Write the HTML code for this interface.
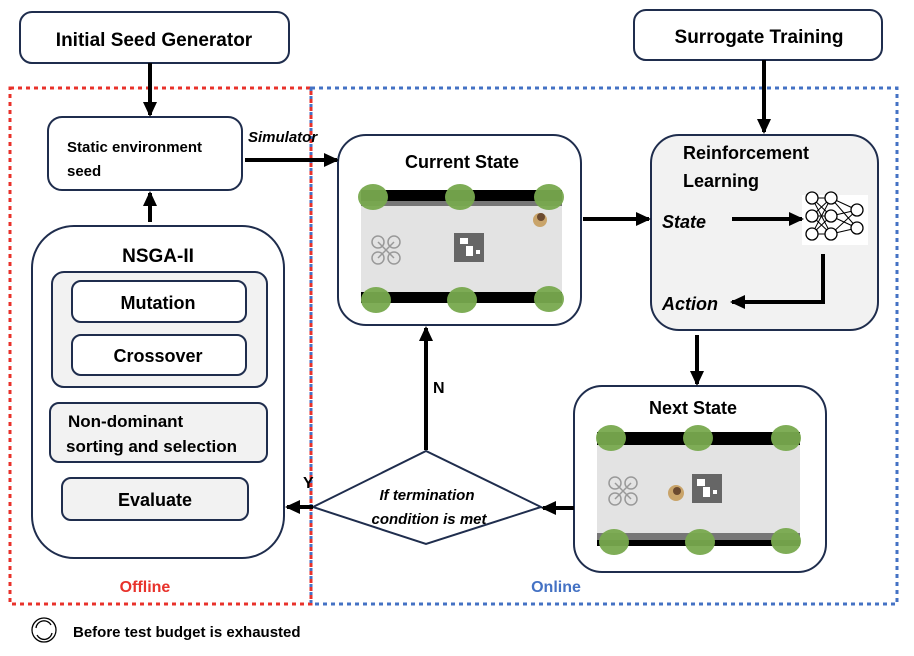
<!DOCTYPE html>
<html><head><style>body{margin:0;background:#fff}svg{display:block}text{font-family:"Liberation Sans",sans-serif;font-weight:bold}</style></head><body>
<svg width="914" height="656" viewBox="0 0 914 656" xmlns="http://www.w3.org/2000/svg">
<defs>
<marker id="b" markerWidth="16" markerHeight="16" refX="13" refY="7" orient="auto" markerUnits="userSpaceOnUse"><path d="M0,0 L15,7 L0,14 z" fill="#000"/></marker></defs>
<!-- dotted regions -->
<rect x="311" y="88" width="586" height="516" fill="none" stroke="#4472c4" stroke-width="3" stroke-dasharray="4,4"/>
<rect x="10" y="88" width="301" height="516" fill="none" stroke="#e8322b" stroke-width="3" stroke-dasharray="4,4"/>
<line x1="311" y1="88" x2="311" y2="604" stroke="#4472c4" stroke-width="3" stroke-dasharray="3,5"/>
<g stroke="#1f2d4d" stroke-width="2">
<rect x="20" y="12" width="269" height="51" rx="12" fill="#fff"/>
<rect x="634" y="10" width="248" height="50" rx="12" fill="#fff"/>
<rect x="48" y="117" width="194" height="73" rx="14" fill="#fff"/>
<rect x="32" y="226" width="252" height="332" rx="42" fill="#fff"/>
<rect x="52" y="272" width="215" height="115" rx="12" fill="#f2f2f2"/>
<rect x="72" y="281" width="174" height="41" rx="9" fill="#fff"/>
<rect x="72" y="335" width="174" height="40" rx="9" fill="#fff"/>
<rect x="50" y="403" width="217" height="59" rx="9" fill="#f2f2f2"/>
<rect x="62" y="478" width="186" height="42" rx="9" fill="#f2f2f2"/>
<rect x="338" y="135" width="243" height="190" rx="28" fill="#fff"/>
<rect x="651" y="135" width="227" height="195" rx="28" fill="#f2f2f2"/>
<rect x="574" y="386" width="252" height="186" rx="28" fill="#fff"/>
<polygon points="313,507 426,451 541,507 426,544" fill="#fff"/>
</g>
<!-- current state scene -->
<rect x="361" y="197" width="201" height="105" fill="#e3e3e3"/>
<rect x="361" y="190" width="201" height="11" fill="#000"/>
<rect x="361" y="201" width="201" height="5" fill="#777"/>
<rect x="361" y="292" width="201" height="11" fill="#000"/>
<g fill="#78a94e" opacity="0.95"><ellipse cx="373" cy="197" rx="15" ry="13"/><ellipse cx="460" cy="197" rx="15" ry="13"/><ellipse cx="549" cy="197" rx="15" ry="13"/><ellipse cx="376" cy="300" rx="15" ry="13"/><ellipse cx="462" cy="300" rx="15" ry="13"/><ellipse cx="549" cy="299" rx="15" ry="13"/></g>
<rect x="454" y="233" width="30" height="29" fill="#666"/><rect x="460" y="238" width="8" height="6" fill="#fff"/><rect x="466" y="246" width="7" height="10" fill="#fff"/><rect x="476" y="250" width="4" height="4" fill="#fff"/>
<g stroke="#999" stroke-width="1.5" fill="none"><circle cx="378" cy="242" r="6"/><circle cx="394" cy="242" r="6"/><circle cx="378" cy="258" r="6"/><circle cx="394" cy="258" r="6"/><line x1="378" y1="242" x2="394" y2="258"/><line x1="394" y1="242" x2="378" y2="258"/></g>
<circle cx="540" cy="220" r="7" fill="#c9a46a"/><circle cx="541" cy="217" r="4" fill="#6b4a30"/>
<!-- next state scene -->
<rect x="597" y="445" width="203" height="92" fill="#e3e3e3"/>
<rect x="597" y="432" width="203" height="13" fill="#000"/>
<rect x="597" y="533" width="203" height="7" fill="#777"/>
<rect x="597" y="540" width="203" height="6" fill="#000"/>
<g fill="#78a94e" opacity="0.95"><ellipse cx="611" cy="438" rx="15" ry="13"/><ellipse cx="698" cy="438" rx="15" ry="13"/><ellipse cx="786" cy="438" rx="15" ry="13"/><ellipse cx="614" cy="542" rx="15" ry="13"/><ellipse cx="700" cy="542" rx="15" ry="13"/><ellipse cx="786" cy="541" rx="15" ry="13"/></g>
<rect x="692" y="474" width="30" height="29" fill="#666"/><rect x="697" y="479" width="8" height="7" fill="#fff"/><rect x="703" y="487" width="7" height="10" fill="#fff"/><rect x="713" y="490" width="4" height="4" fill="#fff"/>
<g stroke="#999" stroke-width="1.5" fill="none"><circle cx="615" cy="483" r="6"/><circle cx="631" cy="483" r="6"/><circle cx="615" cy="499" r="6"/><circle cx="631" cy="499" r="6"/><line x1="615" y1="483" x2="631" y2="499"/><line x1="631" y1="483" x2="615" y2="499"/></g>
<circle cx="676" cy="493" r="8" fill="#c9a46a"/><circle cx="677" cy="491" r="4" fill="#6b4a30"/>
<!-- neural net -->
<rect x="802" y="195" width="66" height="50" fill="#fff"/>
<g stroke="#000" stroke-width="1"><path d="M812,198 L831,198 M812,198 L831,216 M812,198 L831,234 M812,216 L831,198 M812,216 L831,216 M812,216 L831,234 M812,234 L831,198 M812,234 L831,216 M812,234 L831,234 M831,198 L857,210 M831,216 L857,210 M831,234 L857,210 M831,198 L857,228 M831,216 L857,228 M831,234 L857,228"/></g>
<g stroke="#000" stroke-width="1.3" fill="#fff"><circle cx="812" cy="198" r="6"/><circle cx="812" cy="216" r="6"/><circle cx="812" cy="234" r="6"/><circle cx="831" cy="198" r="6"/><circle cx="831" cy="216" r="6"/><circle cx="831" cy="234" r="6"/><circle cx="857" cy="210" r="6"/><circle cx="857" cy="228" r="6"/></g>
<!-- arrows -->
<g stroke="#000" stroke-width="4" fill="none" marker-end="url(#b)">
<line x1="150" y1="63" x2="150" y2="115"/>
<line x1="150" y1="222" x2="150" y2="193"/>
<line x1="245" y1="160" x2="337" y2="160"/>
<line x1="583" y1="219" x2="649" y2="219"/>
<line x1="764" y1="60" x2="764" y2="132"/>
<line x1="732" y1="219" x2="802" y2="219"/>
<polyline points="823,254 823,302 732,302"/>
<line x1="697" y1="335" x2="697" y2="384"/>
<line x1="574" y1="508" x2="543" y2="508"/>
<line x1="313" y1="507" x2="287" y2="507"/>
<line x1="426" y1="450" x2="426" y2="328"/>
</g>
<!-- text -->
<text x="154" y="46" font-size="19" text-anchor="middle">Initial Seed Generator</text>
<text x="759" y="43" font-size="19" text-anchor="middle">Surrogate Training</text>
<text x="67" y="152" font-size="15">Static environment</text>
<text x="67" y="176" font-size="15">seed</text>
<text x="248" y="142" font-size="15" font-style="italic">Simulator</text>
<text x="158" y="262" font-size="19" text-anchor="middle">NSGA-II</text>
<text x="158" y="309" font-size="18" text-anchor="middle">Mutation</text>
<text x="158" y="362" font-size="18" text-anchor="middle">Crossover</text>
<text x="68" y="427" font-size="17">Non-dominant</text>
<text x="66" y="452" font-size="17">sorting and selection</text>
<text x="155" y="506" font-size="18" text-anchor="middle">Evaluate</text>
<text x="462" y="168" font-size="18" text-anchor="middle">Current State</text>
<text x="683" y="159" font-size="18">Reinforcement</text>
<text x="683" y="187" font-size="18">Learning</text>
<text x="662" y="228" font-size="18" font-style="italic">State</text>
<text x="662" y="310" font-size="18" font-style="italic">Action</text>
<text x="693" y="414" font-size="18" text-anchor="middle">Next State</text>
<text x="427" y="500" font-size="15" font-style="italic" text-anchor="middle">If termination</text>
<text x="429" y="524" font-size="15" font-style="italic" text-anchor="middle">condition is met</text>
<text x="433" y="393" font-size="16">N</text>
<text x="303" y="488" font-size="16">Y</text>
<text x="145" y="592" font-size="16" fill="#e8322b" text-anchor="middle">Offline</text>
<text x="556" y="592" font-size="16" fill="#4472c4" text-anchor="middle">Online</text>
<text x="73" y="637" font-size="15">Before test budget is exhausted</text>
<g stroke="#000" stroke-width="1.3" fill="none"><circle cx="44" cy="630" r="12"/><path d="M36,628 A8,8 0 0 1 51,625 M52,633 A8,8 0 0 1 37,635"/></g>
</svg>
</body></html>
